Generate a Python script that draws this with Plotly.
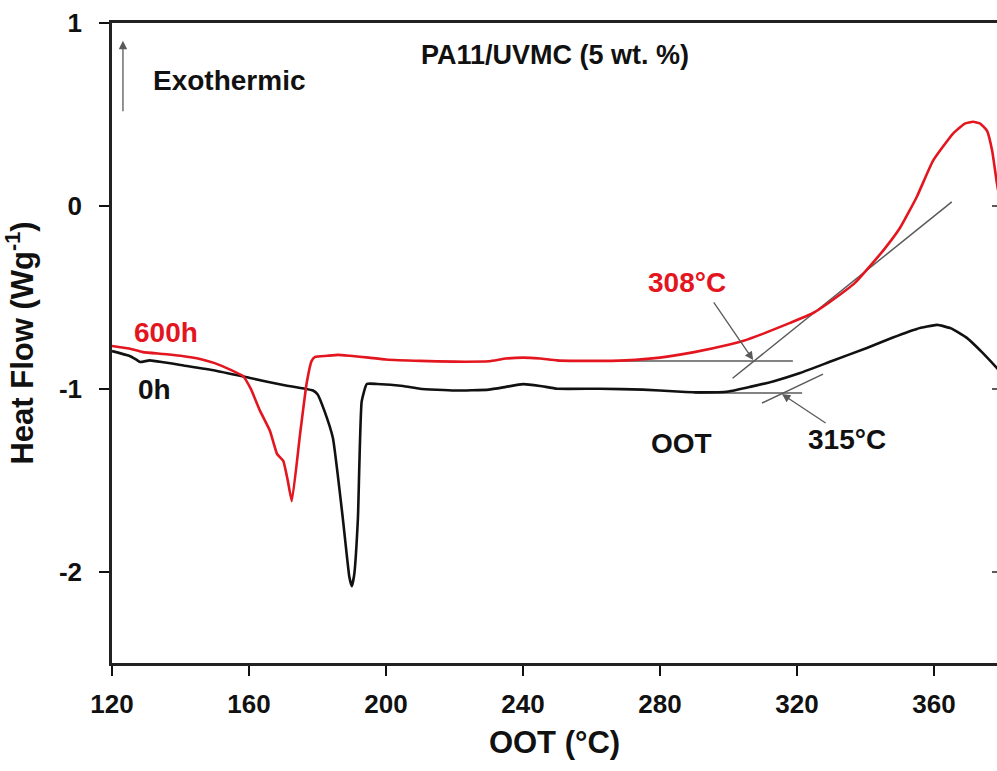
import plotly.graph_objects as go

# ---- data ----
red_x = [120, 125, 129, 135, 140, 145.7, 150, 155, 158.2, 160.5, 163.2, 166.1, 168.2, 170, 171.3, 172.5,
         174.9, 176.8, 178.3, 179.3, 182.8, 186, 189.5, 195, 200, 210, 220, 230, 235, 240, 245, 250,
         260, 270, 280, 290, 300, 304.2, 310, 318, 324.7, 330, 337, 345.1, 350.1, 355, 359.7, 365.5,
         369, 371.4, 373.5, 375.5, 377, 378.4, 380]
red_y = [-0.766, -0.78, -0.80, -0.81, -0.82, -0.837, -0.86, -0.90, -0.93, -1.00, -1.12, -1.23, -1.357,
         -1.395, -1.50, -1.615, -1.25, -0.974, -0.848, -0.826, -0.82, -0.815, -0.82, -0.83, -0.84,
         -0.848, -0.852, -0.85, -0.835, -0.83, -0.835, -0.845, -0.848, -0.845, -0.83, -0.80, -0.76,
         -0.739, -0.70, -0.64, -0.586, -0.52, -0.42, -0.246, -0.12, 0.05, 0.246, 0.394, 0.45, 0.46,
         0.45, 0.41, 0.30, 0.12, -0.05]

blk_x = [120, 125, 127, 128.2, 131, 135, 140, 150, 160, 170, 176.4, 178.7, 180, 182, 184.5, 187.4,
         189.3, 190, 190.7, 191.8, 192.9, 194.4, 197.4, 205, 209.9, 220, 230, 235, 240, 245, 250,
         262.5, 275, 285, 291.7, 300, 306.3, 313, 320.9, 330, 340.4, 348, 355, 360.9, 365, 369.6,
         374, 378.4, 380]
blk_y = [-0.794, -0.82, -0.84, -0.854, -0.845, -0.855, -0.87, -0.90, -0.94, -0.98, -1.00, -1.01,
         -1.03, -1.12, -1.27, -1.71, -2.03, -2.08, -2.02, -1.71, -1.07, -0.974, -0.974, -0.985,
         -1.00, -1.01, -1.005, -0.99, -0.975, -0.985, -1.00, -1.00, -1.005, -1.015, -1.02, -1.015,
         -0.99, -0.96, -0.914, -0.85, -0.777, -0.72, -0.673, -0.651, -0.67, -0.722, -0.80, -0.887, -0.92]

# onset tangents
red_base_x = [250, 318.8]
red_base_y = [-0.848, -0.848]
red_tan_x = [301.2, 365.2]
red_tan_y = [-0.943, 0.022]
blk_base_x = [290, 321.5]
blk_base_y = [-1.024, -1.024]
blk_tan_x = [309.8, 327.6]
blk_tan_y = [-1.078, -0.92]

x_ticks = [120, 160, 200, 240, 280, 320, 360]
y_ticks = [1, 0, -1, -2]
y_ticktext = ["1", "0", "-1", "-2"]

RED = "#e3161f"
BLK = "#111111"
GRAY = "#5a5a5a"
FONT = "Liberation Sans, Arial, sans-serif"

fig = go.Figure()
for bx, by in [(red_base_x, red_base_y), (red_tan_x, red_tan_y),
               (blk_base_x, blk_base_y), (blk_tan_x, blk_tan_y)]:
    fig.add_trace(go.Scatter(x=bx, y=by, mode="lines", line=dict(color=GRAY, width=1.5),
                             showlegend=False, hoverinfo="skip"))
fig.add_trace(go.Scatter(x=blk_x, y=blk_y, mode="lines",
                         line=dict(color=BLK, width=2.6, shape="spline", smoothing=0.4),
                         showlegend=False))
fig.add_trace(go.Scatter(x=red_x, y=red_y, mode="lines",
                         line=dict(color=RED, width=2.6, shape="spline", smoothing=0.4),
                         showlegend=False))
# invisible trace for right-side tick stubs
fig.add_trace(go.Scatter(x=[120], y=[0], yaxis="y2", mode="markers", marker=dict(opacity=0),
                         showlegend=False, hoverinfo="skip"))

def txt(x, y, s, color=BLK, size=28):
    fig.add_annotation(x=x, y=y, xref="x", yref="y", text=s, showarrow=False,
                       font=dict(family=FONT, size=size, color=color, weight="bold"))

txt(249.3, 0.826, "PA11/UVMC (5 wt. %)", size=27)
txt(154.2, 0.684, "Exothermic", size=28)
txt(135.8, -0.695, "600h", RED)
txt(132.3, -1.007, "0h")
txt(287.9, -0.421, "308°C", RED)
txt(286.4, -1.297, "OOT")
txt(334.6, -1.275, "315°C")

def arrow(x0, y0, x1, y1):
    fig.add_annotation(x=x1, y=y1, ax=x0, ay=y0, xref="x", yref="y", axref="x", ayref="y",
                       text="", showarrow=True, arrowhead=2, arrowsize=1.3, arrowwidth=1.3,
                       arrowcolor=GRAY)

arrow(123.2, 0.509, 123.2, 0.903)
arrow(295.4, -0.52, 307.2, -0.843)
arrow(328.8, -1.193, 315.6, -1.029)

axis_font = dict(family=FONT, size=26, color=BLK, weight="bold")
title_font = dict(family=FONT, size=31, color=BLK, weight="bold")

fig.update_layout(
    width=997, height=771,
    margin=dict(l=112, r=0, t=23, b=108),
    paper_bgcolor="white", plot_bgcolor="white",
    xaxis=dict(range=[120, 378.4], tickvals=x_ticks, ticks="outside", ticklen=10, tickwidth=1.5,
               tickcolor=BLK, showline=True, linewidth=2.5, linecolor="#222", mirror=True,
               showgrid=False, zeroline=False, tickfont=axis_font, ticklabelstandoff=6,
               title=dict(text="OOT (°C)", font=title_font, standoff=14)),
    yaxis=dict(range=[-2.5, 1], tickvals=y_ticks, ticktext=y_ticktext, ticks="outside", ticklen=10,
               tickwidth=1.5, tickcolor=BLK, showline=True, linewidth=2.5, linecolor="#222",
               showgrid=False, zeroline=False, tickfont=axis_font, ticklabelstandoff=12,
               title=dict(text="Heat Flow (Wg<sup>-1</sup>)", font=title_font, standoff=18)),
    yaxis2=dict(range=[-2.5, 1], overlaying="y", side="right", anchor="x", tickvals=[0, -1, -2],
                ticks="inside", ticklen=5, tickwidth=1.5, tickcolor=GRAY, showticklabels=False,
                showgrid=False, zeroline=False, showline=False),
    showlegend=False,
)

fig.write_html("out.html")
